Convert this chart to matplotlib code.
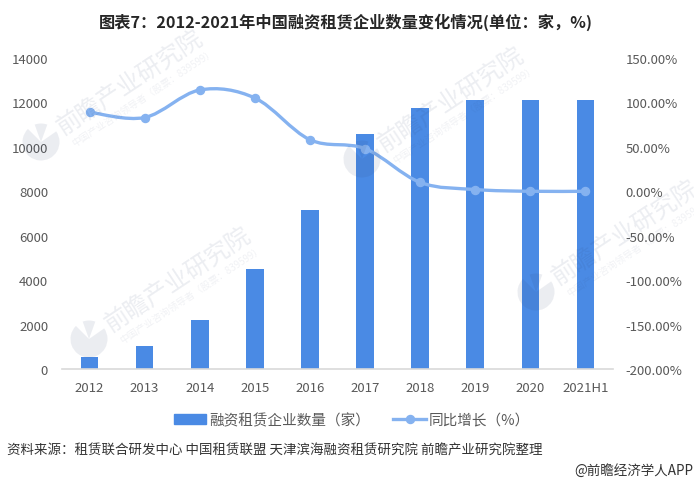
import matplotlib
matplotlib.use('Agg')
import matplotlib.pyplot as plt
import numpy as np
from matplotlib.path import Path
from matplotlib.patches import PathPatch, Patch, Wedge
from matplotlib.lines import Line2D

plt.rcParams['font.family'] = ['Noto Sans CJK SC', 'DejaVu Sans']

years = ['2012', '2013', '2014', '2015', '2016', '2017', '2018', '2019', '2020', '2021H1']
companies = [560, 1026, 2202, 4508, 7136, 10580, 11750, 12110, 12110, 12110]
growth = [89, 83, 114, 105, 58, 48, 10, 2, 0, 0]
left_ticks = [0, 2000, 4000, 6000, 8000, 10000, 12000, 14000]
right_ticks = [-200, -150, -100, -50, 0, 50, 100, 150]

W, H = 694, 485
bar_color = '#4a8ae4'
line_color = '#85b2f0'
text_color = '#595959'

fig = plt.figure(figsize=(W / 100, H / 100), dpi=100)
ax = fig.add_axes([62 / W, 1 - 370 / H, 551 / W, 311 / H])
ax2 = ax.twinx()

x = np.arange(len(years))
ax.bar(x, companies, width=0.32, color=bar_color, zorder=2)
ax.set_xlim(-0.5, len(years) - 0.5)
ax.set_ylim(0, 14000)
ax.set_yticks(left_ticks)
ax.set_xticks(x)
ax.set_xticklabels(years)
ax.tick_params(axis='both', length=0, labelsize=9.5, labelcolor=text_color)
ax.tick_params(axis='x', pad=9)
ax.tick_params(axis='y', pad=10)

ax2.set_ylim(-200, 150)
ax2.set_yticks(right_ticks)
ax2.set_yticklabels(['%.2f%%' % v for v in right_ticks])
ax2.tick_params(axis='y', length=0, labelsize=9.5, labelcolor=text_color, pad=9)

# smoothed line as bezier segments through the data points
y = np.array(growth, dtype=float)
verts = [(x[0], y[0])]
codes = [Path.MOVETO]
for i in range(len(x) - 1):
    p0 = np.array([x[max(i - 1, 0)], y[max(i - 1, 0)]])
    p1 = np.array([x[i], y[i]])
    p2 = np.array([x[i + 1], y[i + 1]])
    p3 = np.array([x[min(i + 2, len(x) - 1)], y[min(i + 2, len(x) - 1)]])
    verts += [tuple(p1 + (p2 - p0) / 6), tuple(p2 - (p3 - p1) / 6), tuple(p2)]
    codes += [Path.CURVE4] * 3
ax2.add_patch(PathPatch(Path(verts, codes), fill=False, edgecolor=line_color, linewidth=2.4, capstyle='round', zorder=3))
ax2.plot(x, y, linestyle='none', marker='o', markersize=5.8, color=line_color, zorder=4)

for s in ['top', 'left', 'right']:
    ax.spines[s].set_visible(False)
    ax2.spines[s].set_visible(False)
ax.spines['bottom'].set_color('#d9d9d9')
ax.spines['bottom'].set_linewidth(1.2)
ax2.spines['bottom'].set_visible(False)

# watermarks lie faintly over the chart, on an axes in pixel coordinates
wm = fig.add_axes([0, 0, 1, 1], zorder=5)
wm.set_xlim(0, W)
wm.set_ylim(H, 0)
wm.axis('off')
wm_color = '#2b3f6b'
for cx, cy in [(41, 143), (89, 340), (362, 160), (536, 293)]:
    wm.add_patch(Wedge((cx, cy), 18.5, -35, 225, color=wm_color, alpha=0.09, lw=0))
    wm.add_patch(Wedge((cx, cy), 18.5, 250, 290, color=wm_color, alpha=0.09, lw=0))
    wm.text(cx + 22, cy - 7, '前瞻产业研究院', fontsize=17.5, color=wm_color, alpha=0.09, rotation=33.5,
            rotation_mode='anchor', ha='left', va='baseline', clip_on=True)
    wm.text(cx + 33, cy + 4, '中国产业咨询领导者（股票：839599）', fontsize=7, color=wm_color, alpha=0.07,
            rotation=33.5, rotation_mode='anchor', ha='left', va='baseline', clip_on=True)

fig.text(346 / W, 1 - 22 / H, '图表7：2012-2021年中国融资租赁企业数量变化情况(单位：家，%)', fontsize=11.7,
         fontweight='bold', color='#262626', ha='center', va='center')

handles = [Patch(color=bar_color), Line2D([], [], color=line_color, linewidth=2.4, marker='o', markersize=5.8)]
fig.legend(handles, ['融资租赁企业数量（家）', '同比增长（%）'], loc='center', bbox_to_anchor=(352 / W, 1 - 421 / H),
           ncol=2, frameon=False, fontsize=10.5, labelcolor=text_color, handlelength=2.2, handletextpad=0.2,
           columnspacing=1.6)

fig.text(7 / W, 1 - 451 / H, '资料来源：租赁联合研发中心 中国租赁联盟 天津滨海融资租赁研究院 前瞻产业研究院整理', fontsize=9.7,
         color='#333333', ha='left', va='center')
fig.text(693 / W, 1 - 471 / H, '@前瞻经济学人APP', fontsize=9.75, color='#333333', ha='right', va='center')

fig.savefig('out.png', dpi=100)
